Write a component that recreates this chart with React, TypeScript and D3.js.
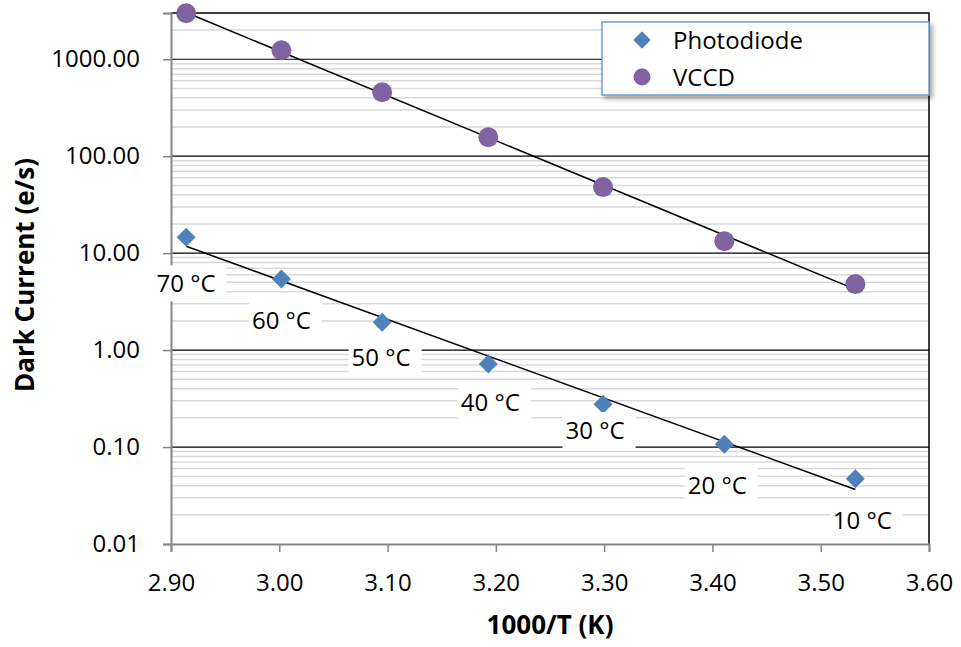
import React, { useEffect, useRef } from "react";
import * as d3 from "d3";

// ---- data ----
const temperatures = ["70 °C", "60 °C", "50 °C", "40 °C", "30 °C", "20 °C", "10 °C"];
const invT = [2.914, 3.002, 3.095, 3.193, 3.299, 3.411, 3.532];
const photodiode = [14.6, 5.4, 1.94, 0.72, 0.277, 0.107, 0.047];
const vccd = [2980, 1240, 457, 157, 48, 13.3, 4.8];
const xTicks = [2.9, 3.0, 3.1, 3.2, 3.3, 3.4, 3.5, 3.6];
const yTicks = [0.01, 0.1, 1, 10, 100, 1000];
const seriesNames = ["Photodiode", "VCCD"];

// ---- layout ----
const W = 961, H = 647;
const M = { left: 171, right: 929, top: 13, bottom: 544 };
const FONT = "'Open Sans', sans-serif";
const BLUE = "#4F81BD";
const PURPLE = "#8064A2";
const labelOffsets: [number, number][] = [[0, 46], [0, 41], [-1, 35], [2, 38], [-8, 26], [-7, 41], [7, 42]];

function expFit(xs: number[], ys: number[]) {
  const ls = ys.map((v) => Math.log10(v));
  const mx = d3.mean(xs)!, my = d3.mean(ls)!;
  let num = 0, den = 0;
  xs.forEach((x, i) => { num += (x - mx) * (ls[i] - my); den += (x - mx) ** 2; });
  const b = num / den, a = my - b * mx;
  return (x: number) => Math.pow(10, a + b * x);
}

export default function App() {
  const ref = useRef<SVGSVGElement>(null);
  useEffect(() => {
    document.body.style.margin = "0";
    const svg = d3.select(ref.current!);
    svg.selectAll("*").remove();
    const x = d3.scaleLinear().domain([2.9, 3.6]).range([M.left, M.right]);
    const y = d3.scaleLog().domain([0.01, 3000]).range([M.bottom, M.top]);

    const defs = svg.append("defs");
    const f = defs.append("filter").attr("id", "sh").attr("x", "-10%").attr("y", "-20%").attr("width", "130%").attr("height", "160%");
    f.append("feDropShadow").attr("dx", 3).attr("dy", 3).attr("stdDeviation", 2.5).attr("flood-color", "#000").attr("flood-opacity", 0.35);

    svg.append("rect").attr("width", W).attr("height", H).attr("fill", "#fff");

    // minor gridlines
    const minors: number[] = [];
    for (let e = -2; e <= 3; e++) for (let k = 2; k <= 9; k++) { const v = k * Math.pow(10, e); if (v < 3000) minors.push(v); }
    svg.append("g").selectAll("line").data(minors).join("line")
      .attr("x1", M.left).attr("x2", M.right).attr("y1", (d) => y(d)).attr("y2", (d) => y(d))
      .attr("stroke", "#D9D9D9").attr("stroke-width", 1.5);
    // major gridlines
    svg.append("g").selectAll("line").data(yTicks.slice(1)).join("line")
      .attr("x1", M.left).attr("x2", M.right).attr("y1", (d) => y(d)).attr("y2", (d) => y(d))
      .attr("stroke", "#000").attr("stroke-width", 1.2);
    // top & right border
    svg.append("path").attr("d", `M${M.left},${y(3000)}H${M.right}V${M.bottom}`).attr("fill", "none").attr("stroke", "#000").attr("stroke-width", 1.5);

    // axes
    const yAxis = d3.axisLeft(y).tickValues(yTicks).tickFormat(d3.format(".2f")).tickSize(8).tickPadding(22);
    const gy = svg.append("g").attr("transform", `translate(${M.left},0)`).call(yAxis);
    const xAxis = d3.axisBottom(x).tickValues(xTicks).tickFormat(d3.format(".2f")).tickSize(8).tickPadding(22);
    const gx = svg.append("g").attr("transform", `translate(0,${M.bottom})`).call(xAxis);
    [gx, gy].forEach((g) => {
      g.select(".domain").attr("stroke", "#868686").attr("stroke-width", 2);
      g.selectAll(".tick line").attr("stroke", "#868686").attr("stroke-width", 1.5);
      g.selectAll("text").attr("font-family", FONT).attr("font-size", 24).attr("fill", "#000");
    });
    gy.selectAll(".tick text").attr("x", -31);

    // trendlines
    [photodiode, vccd].forEach((vals) => {
      const fn = expFit(invT, vals);
      const xs = [invT[0], invT[invT.length - 1]];
      svg.append("line").attr("x1", x(xs[0])).attr("y1", y(fn(xs[0]))).attr("x2", x(xs[1])).attr("y2", y(fn(xs[1])))
        .attr("stroke", "#000").attr("stroke-width", 1.5);
    });

    const diamond = d3.symbol().type(d3.symbolSquare).size(180);
    // photodiode markers
    svg.append("g").selectAll("path").data(invT).join("path")
      .attr("d", diamond as any)
      .attr("transform", (d, i) => `translate(${x(d)},${y(photodiode[i])}) rotate(45)`)
      .attr("fill", BLUE);
    // vccd markers
    svg.append("g").selectAll("circle").data(invT).join("circle")
      .attr("cx", (d) => x(d)).attr("cy", (d, i) => y(vccd[i])).attr("r", 10).attr("fill", PURPLE);

    // data labels
    const lg = svg.append("g");
    temperatures.forEach((t, i) => {
      const cx = x(invT[i]) + labelOffsets[i][0];
      const cy = y(photodiode[i]) + labelOffsets[i][1];
      const g = lg.append("g");
      const txt = g.append("text").attr("x", cx).attr("y", cy).attr("dy", "0.36em").attr("text-anchor", "middle")
        .attr("font-family", FONT).attr("font-size", 24).attr("fill", "#000").text(t);
      const bb = (txt.node() as SVGTextElement).getBBox();
      g.insert("rect", "text").attr("x", bb.x - 3).attr("y", cy - 18).attr("width", bb.width + 14).attr("height", 36).attr("fill", "#fff");
    });

    // legend
    const L = { x: 602, y: 22, w: 327, h: 73 };
    svg.append("rect").attr("x", L.x).attr("y", L.y).attr("width", L.w).attr("height", L.h)
      .attr("fill", "#fff").attr("stroke", "#6E9BD6").attr("stroke-width", 1.5).attr("filter", "url(#sh)");
    seriesNames.forEach((name, i) => {
      const cy = 40 + i * 37;
      if (i === 0) svg.append("path").attr("d", d3.symbol().type(d3.symbolSquare).size(150)() as string)
        .attr("transform", `translate(642,${cy}) rotate(45)`).attr("fill", BLUE);
      else svg.append("circle").attr("cx", 642).attr("cy", cy).attr("r", 8.5).attr("fill", PURPLE);
      svg.append("text").attr("x", 673).attr("y", cy).attr("dy", "0.36em").attr("font-family", FONT).attr("font-size", 24).text(name);
    });

    // axis titles
    svg.append("text").attr("x", 550).attr("y", 625).attr("dy", "0.36em").attr("text-anchor", "middle")
      .attr("font-family", FONT).attr("font-weight", "bold").attr("font-size", 26).text("1000/T (K)");
    svg.append("text").attr("transform", `translate(25,275) rotate(-90)`).attr("dy", "0.36em").attr("text-anchor", "middle")
      .attr("font-family", FONT).attr("font-weight", "bold").attr("font-size", 26).text("Dark Current (e/s)");
  }, []);
  return <svg ref={ref} width={W} height={H} style={{ display: "block" }} />;
}
